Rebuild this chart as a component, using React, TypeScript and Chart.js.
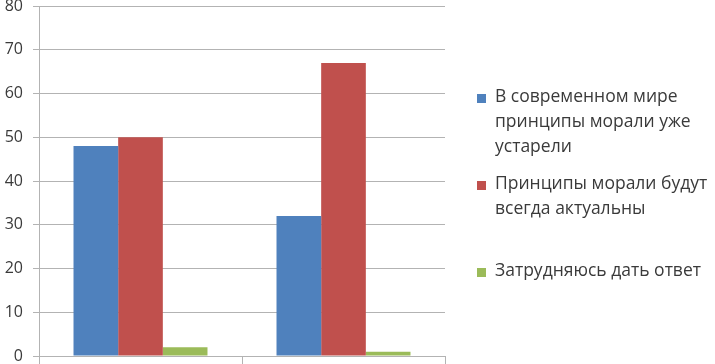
import React, { useEffect, useRef } from 'react';
import { Chart, registerables } from 'chart.js';

Chart.register(...registerables);

// ---- data ----
const categories = ['', ''];
const seriesLabels = [
  ['В современном мире', 'принципы морали уже', 'устарели'],
  ['Принципы морали будут', 'всегда актуальны'],
  ['Затрудняюсь дать ответ'],
];
const outdatedValues = [48, 32];
const relevantValues = [50, 67];
const unsureValues = [2, 1];
const yMin = 0;
const yMax = 80;
const yStep = 10;

// ---- styles ----
const COLORS = ['#4F81BD', '#C0504D', '#9BBB59'];
const GRID = '#b3b3b3';
const TEXT = '#3a3a3a';
const FONT_FAMILY = '"Open Sans", sans-serif';
const LEGEND_X = 477;
const LEGEND_TOPS = [98, 185, 272];
const LEGEND_LINE = 25;

const sideLegend = {
  id: 'sideLegend',
  afterDraw(chart: any) {
    const ctx = chart.ctx as CanvasRenderingContext2D;
    ctx.save();
    ctx.font = `17.5px ${FONT_FAMILY}`;
    ctx.textBaseline = 'middle';
    ctx.textAlign = 'left';
    chart.data.datasets.forEach((ds: any, i: number) => {
      const y0 = LEGEND_TOPS[i];
      ctx.fillStyle = ds.backgroundColor;
      ctx.fillRect(LEGEND_X, y0 - 4, 9, 9);
      ctx.fillStyle = TEXT;
      seriesLabels[i].forEach((line, j) => {
        ctx.fillText(line, LEGEND_X + 18, y0 - 1 + j * LEGEND_LINE);
      });
    });
    ctx.restore();
  },
};

export default function App() {
  const ref = useRef<HTMLCanvasElement | null>(null);

  useEffect(() => {
    document.body.style.margin = '0';
    const canvas = ref.current!;
    const chart = new Chart(canvas, {
      type: 'bar',
      data: {
        labels: categories,
        datasets: [
          { label: seriesLabels[0].join(' '), data: outdatedValues, backgroundColor: COLORS[0] },
          { label: seriesLabels[1].join(' '), data: relevantValues, backgroundColor: COLORS[1] },
          { label: seriesLabels[2].join(' '), data: unsureValues, backgroundColor: COLORS[2] },
        ],
      },
      options: {
        responsive: false,
        animation: false,
        layout: { padding: { left: 0, right: 270, top: 0, bottom: 0 } },
        datasets: { bar: { categoryPercentage: 0.66, barPercentage: 1 } },
        plugins: {
          legend: { display: false },
          tooltip: { enabled: false },
        },
        scales: {
          x: {
            ticks: { display: false },
            grid: { drawOnChartArea: false, drawTicks: true, tickLength: 8, color: GRID },
            border: { color: GRID },
            afterFit(scale: any) {
              scale.height = 8;
            },
          },
          y: {
            min: yMin,
            max: yMax,
            ticks: {
              stepSize: yStep,
              color: TEXT,
              padding: 10,
              font: { family: FONT_FAMILY, size: 16 },
            },
            grid: { color: GRID, tickLength: 6 },
            border: { color: GRID },
            afterFit(scale: any) {
              scale.width = 39;
              scale.paddingTop = 6;
              scale.paddingBottom = 0;
            },
          },
        },
      },
      plugins: [sideLegend],
    });
    return () => chart.destroy();
  }, []);

  return (
    <div style={{ position: 'relative', width: 715, height: 364, background: '#fff' }}>
      <canvas ref={ref} width={715} height={364} />
    </div>
  );
}
